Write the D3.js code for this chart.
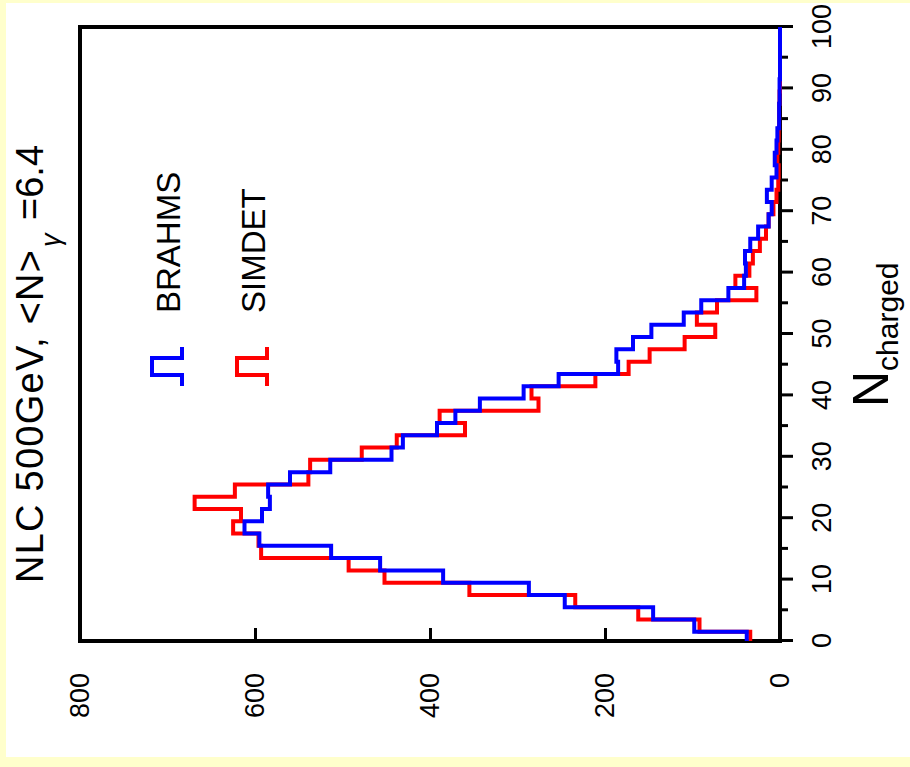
<!DOCTYPE html>
<html>
<head>
<meta charset="utf-8">
<script src="https://cdn.jsdelivr.net/npm/d3@7"></script>
<style>
  html, body { margin: 0; padding: 0; background: #FFFFCC; }
  svg { display: block; }
  text { font-family: "Liberation Sans", Arial, Helvetica, sans-serif; fill: #000; }
</style>
</head>
<body>
<script>
// Charged multiplicity histograms, 2-unit bins starting at N = -0.5
const firstEdge = -0.5;
const binWidth = 2;

const brahms = [
  38, 98, 145, 246, 287, 385, 457, 513, 595, 612,
  592, 583, 585, 560, 514, 444, 431, 392, 371, 343,
  293, 253, 185, 187, 168, 147, 110, 90, 59, 41,
  39, 40, 34, 25, 13, 9.5, 15, 9.5, 4, 6,
  4, 3, 1, 1, 0.5, 0.5, 0, 0, 0, 0
];
const simdet = [
  34, 92, 162, 234, 355, 452, 493, 593, 596, 625,
  616, 669, 623, 539, 537, 478, 438, 360, 389, 276,
  284, 211, 173, 149, 109, 74, 95, 72, 27, 51,
  35, 31, 23, 16, 13, 7.5, 4, 2, 1.5, 3,
  2, 1.5, 1, 1, 0.5, 0, 0, 0, 0, 0
];

const nMajorTicks = [0, 10, 20, 30, 40, 50, 60, 70, 80, 90, 100];
const nMinorTicks = [5, 15, 25, 35, 45, 55, 65, 75, 85, 95];
const countTicks = [0, 200, 400, 600, 800];

const seriesNames = ["BRAHMS", "SIMDET"];
const seriesColors = ["#0000FF", "#FF0000"];

const W = 910, H = 767;
const svg = d3.select("body").append("svg").attr("width", W).attr("height", H);

svg.append("rect").attr("x", 0).attr("y", 0).attr("width", W).attr("height", H).attr("fill", "#FFFFCC");
svg.append("rect").attr("x", 6).attr("y", 3).attr("width", W - 6).attr("height", 754).attr("fill", "#FFFFFF");

// The plot is laid out landscape and turned a quarter turn counter-clockwise
const g = svg.append("g").attr("transform", `translate(0,${H}) rotate(-90)`);

const xN = d3.scaleLinear().domain([0, 100]).range([126, 740]);
const yC = d3.scaleLinear().domain([0, 800]).range([780, 80]);

// Histogram outlines
function stepPoints(vals) {
  const pts = vals.map((v, i) => ({ n: Math.max(0, firstEdge + i * binWidth), c: v }));
  pts.push({ n: 100, c: vals[vals.length - 1] });
  return pts;
}
const line = d3.line().x(d => xN(d.n)).y(d => yC(d.c)).curve(d3.curveStepAfter);

// Frame
g.append("rect")
  .attr("x", xN(0)).attr("y", yC(800))
  .attr("width", xN(100) - xN(0)).attr("height", yC(0) - yC(800))
  .attr("fill", "none").attr("stroke", "#000").attr("stroke-width", 4);

// N axis (major + minor ticks, pointing outward)
const axN = g.append("g").attr("transform", `translate(0,${yC(0)})`)
  .call(d3.axisBottom(xN).tickValues(nMajorTicks).tickSizeInner(13).tickSizeOuter(0).tickPadding(19));
const axNminor = g.append("g").attr("transform", `translate(0,${yC(0)})`)
  .call(d3.axisBottom(xN).tickValues(nMinorTicks).tickSizeInner(8).tickSizeOuter(0).tickFormat(""));

// Count axis (ticks pointing inward)
const axC = g.append("g").attr("transform", `translate(${xN(0)},0)`)
  .call(d3.axisLeft(yC).tickValues(countTicks).tickSizeInner(-13).tickSizeOuter(0).tickPadding(32));

[axN, axNminor, axC].forEach(a => {
  a.select(".domain").remove();
  a.selectAll(".tick line").attr("stroke", "#000").attr("stroke-width", 3);
  a.selectAll(".tick text").attr("font-size", 27).attr("font-family", "Liberation Sans, Arial, sans-serif").attr("fill", "#000");
});
axC.selectAll(".tick").filter(d => d === 0 || d === 800).select("line").remove();

// Histograms: SIMDET under BRAHMS
[[simdet, seriesColors[1]], [brahms, seriesColors[0]]].forEach(([vals, col]) => {
  g.append("path")
    .attr("d", line(stepPoints(vals)))
    .attr("fill", "none").attr("stroke", col).attr("stroke-width", 4)
    .attr("stroke-linejoin", "miter").attr("stroke-linecap", "butt");
});

// Legend
const legendRows = [152, 237];
seriesNames.forEach((name, i) => {
  const top = legendRows[i], base = top + 30;
  const sym = [[381, base], [392, base], [392, top], [409, top], [409, base], [420, base]];
  g.append("path")
    .attr("d", d3.line()(sym))
    .attr("fill", "none").attr("stroke", seriesColors[i]).attr("stroke-width", 4);
  g.append("text").attr("x", 454).attr("y", base - 2)
    .attr("font-size", 33).text(name);
});

// Title
g.append("text").attr("x", 184).attr("y", 43).attr("font-size", 38)
  .attr("textLength", 333).attr("lengthAdjust", "spacing")
  .text("NLC 500GeV, <N>");
g.append("text").attr("x", 520).attr("y", 60).attr("font-size", 27)
  .attr("font-style", "italic").text("γ");
g.append("text").attr("x", 547).attr("y", 43).attr("font-size", 38).text("=6.4");

// Axis title
const at = g.append("text").attr("x", 360).attr("y", 888).attr("font-size", 50);
at.append("tspan").text("N");
at.append("tspan").attr("font-size", 30).attr("dy", 10).text("charged");
</script>
</body>
</html>
